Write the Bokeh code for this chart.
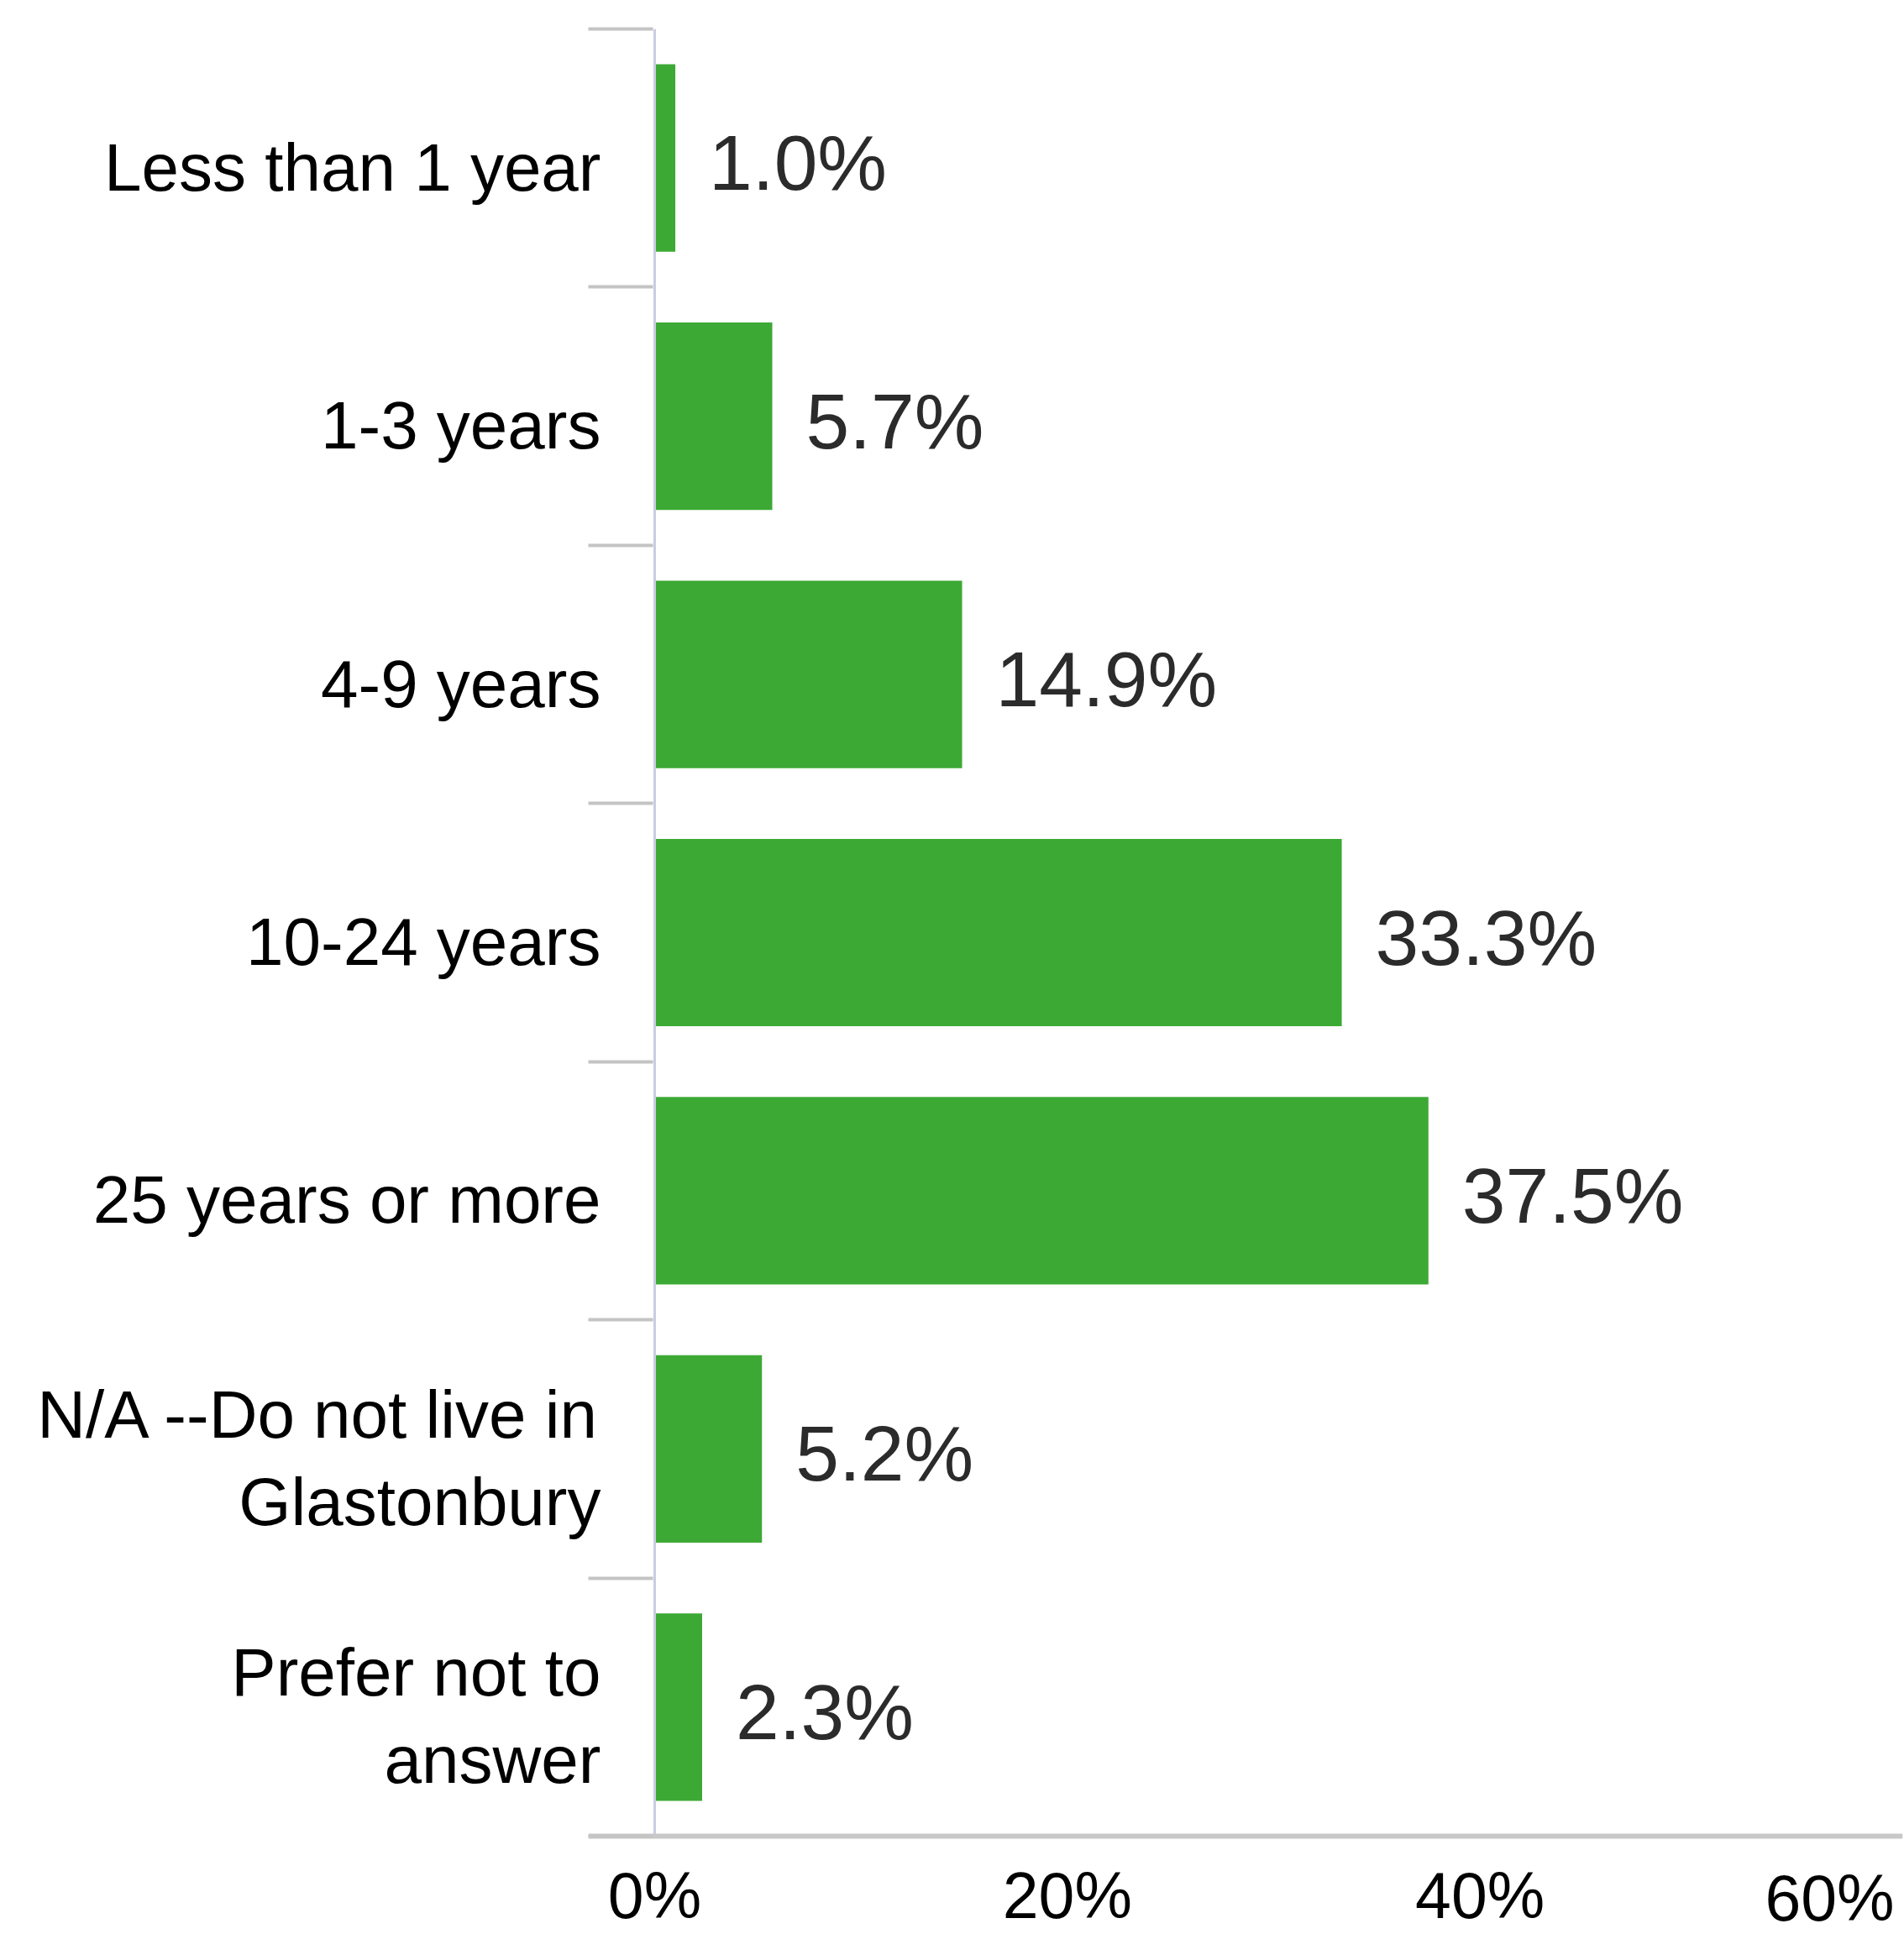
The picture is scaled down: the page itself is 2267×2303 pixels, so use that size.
from bokeh.plotting import figure
from bokeh.models import FixedTicker, Range1d, ColumnDataSource
from bokeh.embed import file_html
from bokeh.resources import INLINE
from bokeh.core.properties import value

categories = ["Less than 1 year", "1-3 years", "4-9 years", "10-24 years",
              "25 years or more", "N/A --Do not live in\nGlastonbury",
              "Prefer not to\nanswer"]
percents = [1.0, 5.7, 14.9, 33.3, 37.5, 5.2, 2.3]
x_ticks = [0, 20, 40, 60]
x_tick_labels = ["0%", "20%", "40%", "60%"]

FONT = "Liberation Sans"
n = len(categories)
ypos = [n - i - 0.5 for i in range(n)]
src = ColumnDataSource(dict(y=ypos, x=percents, cat=categories,
                            lab=[f"{v:.1f}%" for v in percents]))

# layout (pixels)
frame_left, zero_px, sixty_px, frame_right = 700, 779, 2253, 2265
px_per_unit = (sixty_px - zero_px) / x_ticks[-1]
x_start = -(zero_px - frame_left) / px_per_unit
x_end = (frame_right - zero_px) / px_per_unit
band_px = 2152 / n
frame_h = 2269
y_start = n - frame_h / band_px
label_shift = 11 / band_px  # category text sits slightly below band centre
label_pos = [y - label_shift for y in ypos]

p = figure(frame_width=frame_right - frame_left, frame_height=frame_h,
           x_range=Range1d(x_start, x_end), y_range=Range1d(y_start, n),
           output_backend="svg", toolbar_location=None,
           min_border_left=frame_left, min_border_right=2, min_border_top=34,
           min_border_bottom=0, background_fill_color="white")
p.outline_line_color = None
p.xgrid.visible = False
p.ygrid.visible = False

p.hbar(y="y", left=0, right="x", height=0.726, source=src,
       fill_color="#3da935", line_color=None)
p.text(x="x", y="y", text="lab", source=src, x_offset=40, y_offset=6,
       text_baseline="middle", text_align="left",
       text_font=value(FONT), text_font_size="93px", text_color="#2b2b2b")

# vertical axis line at 0
p.segment(x0=[0], y0=[0], x1=[0], y1=[n], line_color="#c9cde0",
          line_width=3)

# y axis: labels at band centres, tick marks at band boundaries
ya = p.yaxis[0]
ya.ticker = FixedTicker(ticks=label_pos, minor_ticks=list(range(n + 1)))
ya.major_label_overrides = {y: c for y, c in zip(label_pos, categories)}
ya.major_tick_out = 0
ya.major_tick_in = 0
ya.minor_tick_out = 0
ya.minor_tick_in = 77
ya.minor_tick_line_color = "#c4c4c4"
ya.minor_tick_line_width = 4
ya.axis_line_color = None
ya.major_label_standoff = -15
ya.major_label_text_font = FONT
ya.major_label_text_font_size = "80px"
ya.major_label_text_color = "#000000"
ya.major_label_text_line_height = 1.17

xa = p.xaxis[0]
xa.fixed_location = 0
xa.ticker = FixedTicker(ticks=x_ticks, minor_ticks=[])
overrides = {t: l for t, l in zip(x_ticks, x_tick_labels)}
overrides[x_ticks[-1]] = ""
xa.major_label_overrides = overrides
xa.major_tick_out = 0
xa.major_tick_in = 0
xa.axis_line_color = "#c8c8c8"
xa.axis_line_width = 6
xa.major_label_standoff = 27
xa.major_label_text_font = FONT
xa.major_label_text_font_size = "77px"
xa.major_label_text_color = "#000000"

# last tick label sits flush with the right edge, as in the original
p.text(x=[x_ticks[-1]], y=[0], text=[x_tick_labels[-1]], x_offset=2,
       y_offset=30, text_align="right", text_baseline="top",
       text_font=value(FONT), text_font_size="77px", text_color="#000000")

open("out.html", "w").write(file_html(p, INLINE))
